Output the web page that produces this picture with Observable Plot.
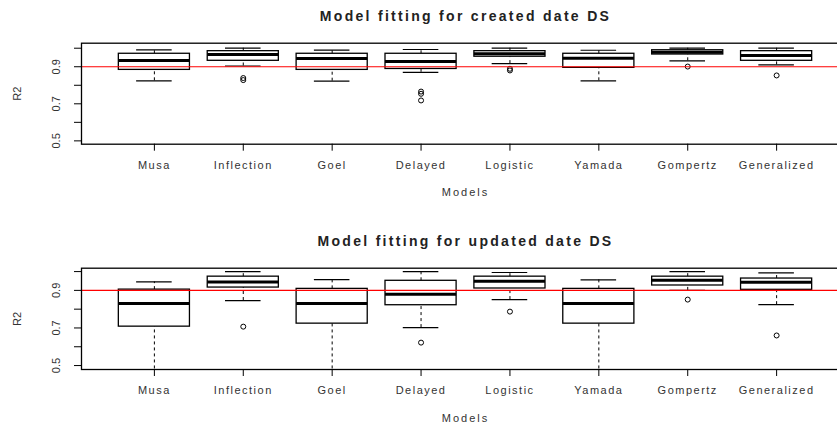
<!DOCTYPE html>
<html>
<head>
<meta charset="utf-8">
<script src="https://cdn.jsdelivr.net/npm/d3@7"></script>
<script src="https://cdn.jsdelivr.net/npm/@observablehq/plot@0.6"></script>
<style>
  body { margin: 0; background: #fff; }
  #chart { width: 837px; height: 424px; overflow: hidden; }
  #chart svg { display: block; overflow: hidden; }
  #chart g[aria-label="x-axis tick label"] text { letter-spacing: 1.5px; }
  #chart g[aria-label="x-axis label"] text { letter-spacing: 2px; }
  #chart g[font-weight="bold"] text { letter-spacing: 2.3px; }
</style>
</head>
<body>
<div id="chart"></div>
<script>
// Models compared, in plotting order
const models = ["Musa", "Inflection", "Goel", "Delayed", "Logistic", "Yamada", "Gompertz", "Generalized"];
const yTicks = [0.5, 0.6, 0.7, 0.8, 0.9, 1.0];
const yTickLabels = [0.5, 0.7, 0.9];
const threshold = 0.9;

// R2 summary per model, created date data set
const createdLow    = [0.824, 0.904, 0.822, 0.870, 0.917, 0.824, 0.932, 0.910];
const createdQ1     = [0.883, 0.932, 0.883, 0.888, 0.954, 0.894, 0.966, 0.932];
const createdMedian = [0.934, 0.966, 0.945, 0.928, 0.970, 0.946, 0.978, 0.961];
const createdQ3     = [0.970, 0.984, 0.970, 0.970, 0.984, 0.970, 0.989, 0.984];
const createdHigh   = [0.991, 1.000, 0.990, 0.993, 1.000, 0.989, 1.000, 1.000];
const createdOutlierModel = ["Inflection", "Inflection", "Delayed", "Delayed", "Delayed", "Logistic", "Logistic", "Gompertz", "Generalized"];
const createdOutlierValue = [0.839, 0.828, 0.766, 0.754, 0.718, 0.889, 0.880, 0.901, 0.853];

// R2 summary per model, updated date data set
const updatedLow    = [0.450, 0.846, 0.450, 0.702, 0.851, 0.450, 0.900, 0.824];
const updatedQ1     = [0.707, 0.915, 0.723, 0.821, 0.910, 0.723, 0.926, 0.903];
const updatedMedian = [0.830, 0.945, 0.830, 0.879, 0.948, 0.830, 0.954, 0.943];
const updatedQ3     = [0.904, 0.973, 0.908, 0.951, 0.973, 0.908, 0.973, 0.963];
const updatedHigh   = [0.945, 1.000, 0.957, 1.000, 0.995, 0.956, 1.000, 0.993];
const updatedOutlierModel = ["Inflection", "Delayed", "Logistic", "Gompertz", "Generalized"];
const updatedOutlierValue = [0.707, 0.622, 0.787, 0.851, 0.660];

const boxHalf = 0.4;    // half box width, in model slots
const capHalf = 0.2;    // half whisker-cap width

function boxPanel({title, low, q1, median, q3, high, outlierModel, outlierValue, yDomain, marginTop, marginBottom}) {
  const rows = models.map((m, i) => ({pos: i + 1, model: m, low: low[i], q1: q1[i], median: median[i], q3: q3[i], high: high[i]}));
  const outliers = outlierModel.map((m, i) => ({pos: models.indexOf(m) + 1, value: outlierValue[i]}));
  return Plot.plot({
    width: 837,
    height: 212,
    marginLeft: 81,
    marginRight: -12,
    marginTop,
    marginBottom,
    style: {fontFamily: "'Liberation Sans', Arial, sans-serif", fontSize: "11px", color: "#333", background: "white"},
    x: {domain: [0.18, 8.82]},
    y: {domain: yDomain},
    marks: [
      // whiskers
      Plot.ruleX(rows, {x: "pos", y1: "q3", y2: "high", stroke: "black", strokeDasharray: "3,3", clip: true}),
      Plot.ruleX(rows, {x: "pos", y1: "low", y2: "q1", stroke: "black", strokeDasharray: "3,3", clip: true}),
      Plot.ruleY(rows, {y: "high", x1: d => d.pos - capHalf, x2: d => d.pos + capHalf, stroke: "black", strokeWidth: 1.2, clip: true}),
      Plot.ruleY(rows, {y: "low", x1: d => d.pos - capHalf, x2: d => d.pos + capHalf, stroke: "black", strokeWidth: 1.2, clip: true}),
      // boxes and medians
      Plot.rect(rows, {x1: d => d.pos - boxHalf, x2: d => d.pos + boxHalf, y1: "q1", y2: "q3", fill: "white", stroke: "black", strokeWidth: 1.3}),
      Plot.ruleY(rows, {y: "median", x1: d => d.pos - boxHalf, x2: d => d.pos + boxHalf, stroke: "black", strokeWidth: 3}),
      // outlying fits
      Plot.dot(outliers, {x: "pos", y: "value", r: 2.5, stroke: "black", strokeWidth: 1, fill: "none"}),
      // reference level
      Plot.ruleY([threshold], {stroke: "#ff0000", strokeWidth: 1.2}),
      // axes
      Plot.axisX({ticks: rows.map(d => d.pos), tickFormat: p => models[p - 1], tickSize: 7, tickPadding: 10,
        stroke: "black", fill: "#333", label: "Models", labelAnchor: "center", labelOffset: 52, labelArrow: "none"}),
      Plot.axisY({ticks: yTicks, tickSize: 7, text: null, stroke: "black", label: null}),
      Plot.axisY({ticks: yTickLabels, tickFormat: d => String(d), tickSize: 0, tickPadding: 22, tickRotate: -90, fill: "#333",
        label: "R2", labelAnchor: "center", labelOffset: 68, labelArrow: "none"}),
      Plot.frame({stroke: "black", strokeWidth: 1.3}),
      Plot.text([title], {frameAnchor: "top", dy: -22, lineAnchor: "bottom", fontWeight: "bold", fontSize: 14, fill: "#222"})
    ]
  });
}

const chart = document.getElementById("chart");
chart.append(boxPanel({
  title: "Model fitting for created date DS",
  low: createdLow, q1: createdQ1, median: createdMedian, q3: createdQ3, high: createdHigh,
  outlierModel: createdOutlierModel, outlierValue: createdOutlierValue,
  yDomain: [0.482, 1.027], marginTop: 42.7, marginBottom: 68.3
}));
chart.append(boxPanel({
  title: "Model fitting for updated date DS",
  low: updatedLow, q1: updatedQ1, median: updatedMedian, q3: updatedQ3, high: updatedHigh,
  outlierModel: updatedOutlierModel, outlierValue: updatedOutlierValue,
  yDomain: [0.479, 1.018], marginTop: 55.7, marginBottom: 55
}));
</script>
</body>
</html>
